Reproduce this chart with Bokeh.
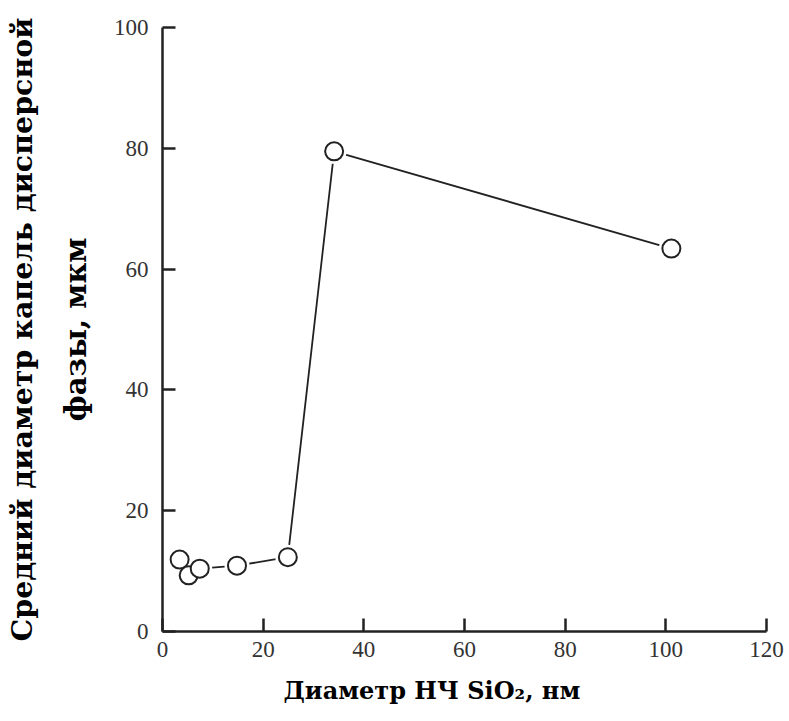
from bokeh.plotting import figure
from bokeh.models import Range1d, Title, FixedTicker
from bokeh.embed import file_html
from bokeh.resources import INLINE

# Data
diameter_nm = [3.4, 5.2, 7.4, 14.8, 24.9, 34.1, 101.1]
droplet_um = [11.9, 9.3, 10.4, 10.9, 12.3, 79.5, 63.4]
x_ticks = [0, 20, 40, 60, 80, 100, 120]
y_ticks = [0, 20, 40, 60, 80, 100]
x_title = "Диаметр НЧ SiO₂, нм"
y_title_1 = "Средний диаметр капель дисперсной"
y_title_2 = "фазы, мкм"

p = figure(width=789, height=721, output_backend="svg", toolbar_location=None,
           x_range=Range1d(0, 120), y_range=Range1d(0, 100),
           min_border_left=162, min_border_right=23, min_border_top=27, min_border_bottom=90)
p.outline_line_color = None
p.xgrid.visible = False
p.ygrid.visible = False
p.background_fill_color = "white"

p.line(diameter_nm, droplet_um, line_color="#222222", line_width=1.8)
p.scatter(diameter_nm, droplet_um, size=25, fill_color="white", line_color=None)
p.scatter(diameter_nm, droplet_um, size=18, fill_color="white", line_color="#222222", line_width=2)

for ax, ticks in ((p.xaxis, x_ticks), (p.yaxis, y_ticks)):
    ax.ticker = FixedTicker(ticks=ticks)
    ax.axis_line_color = "#222222"
    ax.axis_line_width = 2.5
    ax.major_tick_line_color = "#222222"
    ax.major_tick_line_width = 2.5
    ax.major_tick_in = 13
    ax.major_tick_out = 0
    ax.minor_tick_line_color = None
    ax.major_label_text_font = "Liberation Serif"
    ax.major_label_text_font_size = "23px"
    ax.major_label_text_color = "#333333"
p.xaxis.major_label_standoff = 10
p.yaxis.major_label_standoff = 14

font = "DejaVu Serif"
def mk(text, size, **kw):
    return Title(text=text, text_font=font, text_font_style="bold", text_font_size=size,
                 text_color="black", **kw)

p.add_layout(mk(x_title, "24px", align="left", offset=121, standoff=29), "below")
p.add_layout(mk(y_title_2, "29px", align="center", standoff=36), "left")
p.add_layout(mk(y_title_1, "28.5px", align="center", standoff=0), "left")

open("out.html", "w").write(file_html(p, INLINE))
